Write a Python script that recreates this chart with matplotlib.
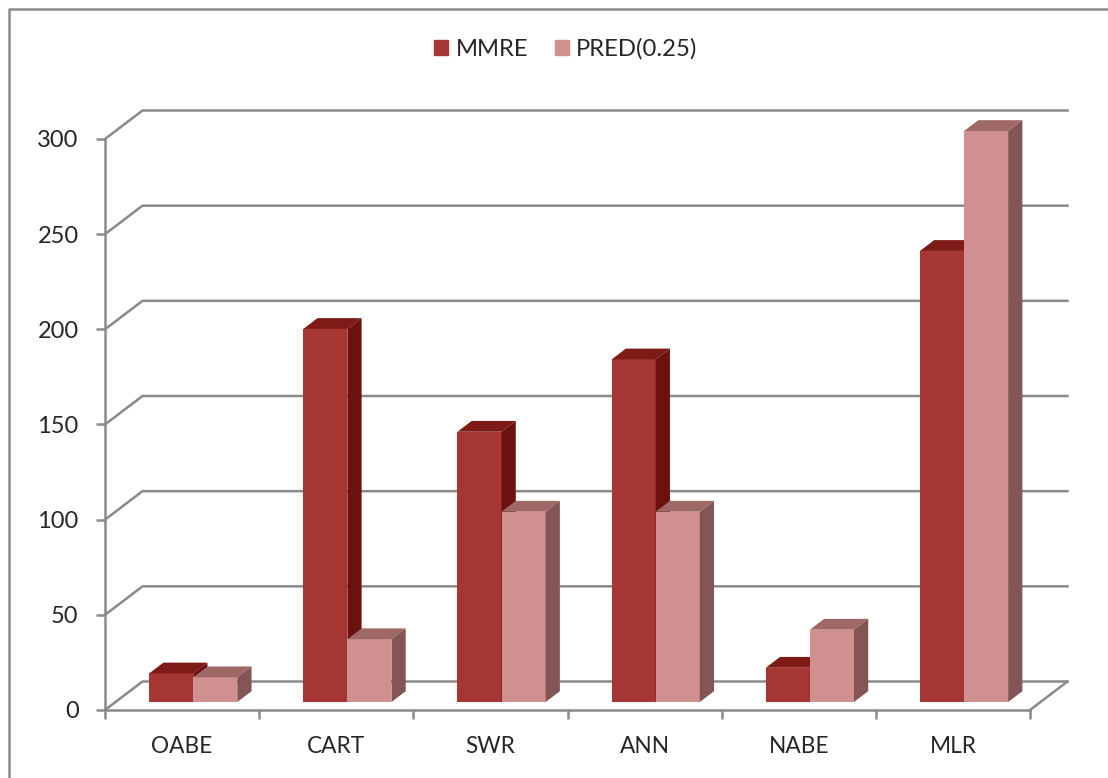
import matplotlib
matplotlib.use('Agg')
import matplotlib.pyplot as plt
from matplotlib.lines import Line2D
from matplotlib.patches import Patch

categories = ['OABE', 'CART', 'SWR', 'ANN', 'NABE', 'MLR']
mmre = [15, 196, 142, 180, 18, 237]
pred = [13, 33, 100, 100, 38, 300]
yticks = [0, 50, 100, 150, 200, 250, 300]

W, H = 1108, 778
GREY = '#8a8a8a'
TEXT = '#262626'
plt.rcParams['font.family'] = ['Lato', 'DejaVu Sans']

# plot box in pixels, measured from the top left of the figure
left, right, y0, y300 = 105, 1030, 710, 139

fig = plt.figure(figsize=(W / 100, H / 100), dpi=100)
ax = fig.add_axes([left / W, 1 - y0 / H, (right - left) / W, (y0 - y300) / H])
ax.set_xlim(0, 6)
ax.set_ylim(0, 300)

# oblique offset of the back wall, in data units
wall_dx = 37.5 / ((right - left) / 6)
wall_dy = 28.5 / ((y0 - y300) / 300)


def project(x, v, depth):
    return x + depth * wall_dx, v + depth * wall_dy


# back wall gridlines with their diagonal on the left side
for v in yticks:
    xs = [0, wall_dx, 6 + wall_dx]
    ys = [v, v + wall_dy, v + wall_dy]
    ax.plot(xs, ys, color=GREY, lw=1.8, clip_on=False, zorder=1, solid_joinstyle='miter')
ax.plot([6, 6 + wall_dx], [0, wall_dy], color=GREY, lw=1.8, clip_on=False, zorder=1)

bar_w = 0.286
gap = 0.218
d_front, d_back = 0.28, 0.66
series = [
    (mmre, 0, '#a63633', '#7e1b17', '#6b110e'),
    (pred, 1, '#d09090', '#9e6866', '#845555'),
]


def draw_bar(x, v, front, top, side, z):
    x2 = x + bar_w
    a = project(x, 0, d_front)
    ax.bar(a[0], v, bar_w, bottom=a[1], align='edge', color=front, lw=0, clip_on=False, zorder=z)
    corners = [(x, v, d_front), (x2, v, d_front), (x2, v, d_back), (x, v, d_back)]
    ax.fill(*zip(*[project(*c) for c in corners]), color=top, lw=0, clip_on=False, zorder=z)
    corners = [(x2, 0, d_front), (x2, v, d_front), (x2, v, d_back), (x2, 0, d_back)]
    ax.fill(*zip(*[project(*c) for c in corners]), color=side, lw=0, clip_on=False, zorder=z)


for i in range(len(categories)):
    for values, k, front, top, side in series:
        draw_bar(i + gap + k * bar_w, values[i], front, top, side, 3 + i + k * 0.1)

for name in ['top', 'right']:
    ax.spines[name].set_visible(False)
for name in ['left', 'bottom']:
    ax.spines[name].set_color(GREY)
    ax.spines[name].set_linewidth(1.8)
    ax.spines[name].set_zorder(2)
ax.patch.set_visible(False)

ax.set_yticks(yticks)
ax.tick_params(axis='y', length=6.5, width=1.8, color=GREY, labelcolor=TEXT, labelsize=17, pad=12.5)
ax.set_xticks(range(7))
ax.set_xticklabels([])
ax.set_xticks([i + 0.5 for i in range(6)], categories, minor=True)
ax.tick_params(axis='x', which='major', length=6.5, width=1.8, color=GREY)
ax.tick_params(axis='x', which='minor', length=0, labelcolor=TEXT, labelsize=16.3, pad=19)

handles = [Patch(color='#a63633', label='MMRE'), Patch(color='#d09090', label='PRED(0.25)')]
fig.legend(handles=handles, loc='center', bbox_to_anchor=(566 / W, 1 - 49 / H), ncol=2,
           frameon=False, fontsize=17.2, handlelength=0.585, handleheight=0.585,
           handletextpad=0.3, columnspacing=1.13, labelcolor=TEXT)

# outer chart frame, cut off on the right and bottom
fig.add_artist(Line2D([9 / W, 9 / W, 1], [0, 1 - 9 / H, 1 - 9 / H], color=GREY, lw=1.8))

fig.savefig('out.png', dpi=100)
